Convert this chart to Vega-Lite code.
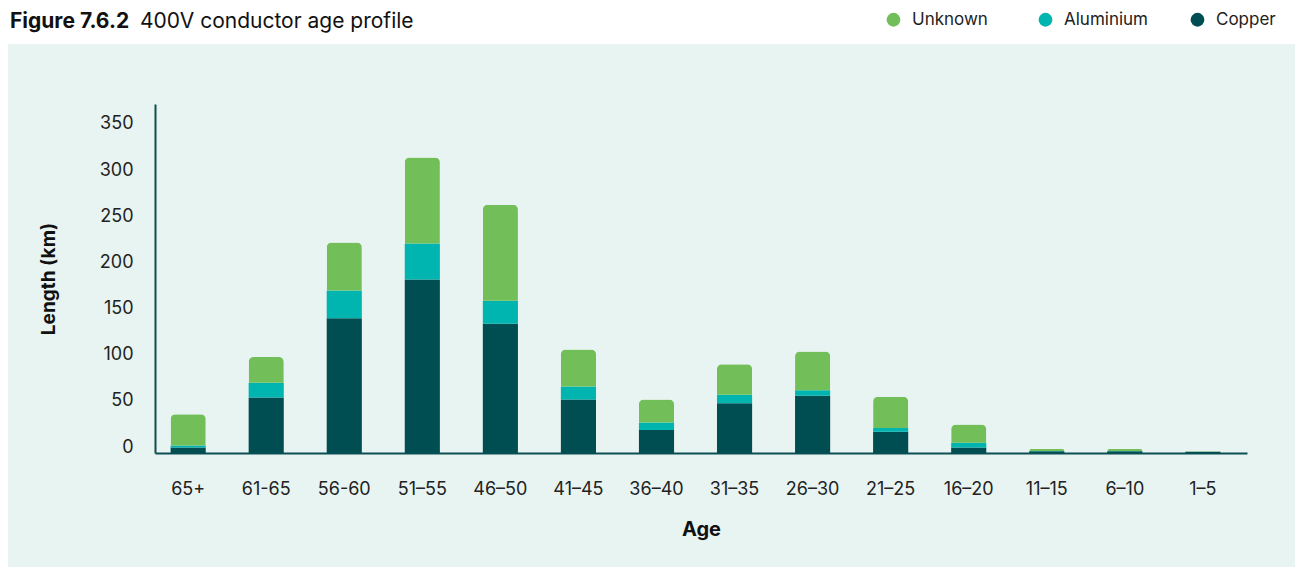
{
  "$schema": "https://vega.github.io/schema/vega-lite/v6.json",
  "autosize": {"type": "none"},
  "width": 1287,
  "height": 523,
  "padding": {"left": 8, "top": 44, "right": 0, "bottom": 0},
  "background": "#ffffff",
  "title": {
    "text": "Figure 7.6.2",
    "subtitle": "\u200b\u00a0\u00a0\u00a0\u00a0\u00a0\u00a0\u00a0\u00a0\u00a0\u00a0\u00a0\u00a0\u00a0\u00a0\u00a0\u00a0\u00a0\u00a0\u00a0\u00a0\u00a0\u00a0400V conductor age profile",
    "anchor": "start",
    "frame": "group",
    "font": "Inter",
    "fontSize": 21,
    "fontWeight": "bold",
    "color": "#111111",
    "subtitleFont": "Inter",
    "subtitleFontSize": 21,
    "subtitleFontWeight": "normal",
    "subtitleColor": "#111111",
    "subtitlePadding": -21,
    "dx": 2,
    "dy": 25
  },
  "config": {
    "view": {"fill": "#E8F4F1", "stroke": null},
    "font": "Inter"
  },
  "data": {
    "values": [
      {"age": "65+", "type": "Copper", "km": 6, "o": 1},
      {"age": "65+", "type": "Aluminium", "km": 2, "o": 2},
      {"age": "65+", "type": "Unknown", "km": 34, "o": 3},
      {"age": "61-65", "type": "Copper", "km": 60, "o": 1},
      {"age": "61-65", "type": "Aluminium", "km": 16, "o": 2},
      {"age": "61-65", "type": "Unknown", "km": 28, "o": 3},
      {"age": "56-60", "type": "Copper", "km": 146, "o": 1},
      {"age": "56-60", "type": "Aluminium", "km": 30, "o": 2},
      {"age": "56-60", "type": "Unknown", "km": 52, "o": 3},
      {"age": "51–55", "type": "Copper", "km": 188, "o": 1},
      {"age": "51–55", "type": "Aluminium", "km": 39, "o": 2},
      {"age": "51–55", "type": "Unknown", "km": 93, "o": 3},
      {"age": "46–50", "type": "Copper", "km": 140, "o": 1},
      {"age": "46–50", "type": "Aluminium", "km": 25, "o": 2},
      {"age": "46–50", "type": "Unknown", "km": 104, "o": 3},
      {"age": "41–45", "type": "Copper", "km": 58, "o": 1},
      {"age": "41–45", "type": "Aluminium", "km": 14, "o": 2},
      {"age": "41–45", "type": "Unknown", "km": 40, "o": 3},
      {"age": "36–40", "type": "Copper", "km": 25, "o": 1},
      {"age": "36–40", "type": "Aluminium", "km": 8, "o": 2},
      {"age": "36–40", "type": "Unknown", "km": 25, "o": 3},
      {"age": "31–35", "type": "Copper", "km": 54, "o": 1},
      {"age": "31–35", "type": "Aluminium", "km": 9, "o": 2},
      {"age": "31–35", "type": "Unknown", "km": 33, "o": 3},
      {"age": "26–30", "type": "Copper", "km": 62, "o": 1},
      {"age": "26–30", "type": "Aluminium", "km": 6, "o": 2},
      {"age": "26–30", "type": "Unknown", "km": 42, "o": 3},
      {"age": "21–25", "type": "Copper", "km": 23, "o": 1},
      {"age": "21–25", "type": "Aluminium", "km": 4, "o": 2},
      {"age": "21–25", "type": "Unknown", "km": 34, "o": 3},
      {"age": "16–20", "type": "Copper", "km": 6, "o": 1},
      {"age": "16–20", "type": "Aluminium", "km": 5, "o": 2},
      {"age": "16–20", "type": "Unknown", "km": 20, "o": 3},
      {"age": "11–15", "type": "Copper", "km": 1.8, "o": 1},
      {"age": "11–15", "type": "Aluminium", "km": 0.3, "o": 2},
      {"age": "11–15", "type": "Unknown", "km": 2.2, "o": 3},
      {"age": "6–10", "type": "Copper", "km": 1.8, "o": 1},
      {"age": "6–10", "type": "Aluminium", "km": 0.3, "o": 2},
      {"age": "6–10", "type": "Unknown", "km": 2.2, "o": 3},
      {"age": "1–5", "type": "Copper", "km": 1.3, "o": 1},
      {"age": "1–5", "type": "Aluminium", "km": 0.1, "o": 2},
      {"age": "1–5", "type": "Unknown", "km": 0.6, "o": 3}
    ]
  },
  "encoding": {
    "x": {
      "field": "age",
      "type": "nominal",
      "sort": null,
      "scale": {"range": [147, 1239], "paddingInner": 0.55, "paddingOuter": 0.27, "align": 0.37},
      "axis": {
        "title": "Age",
        "titleFont": "Inter",
        "titleFontSize": 20,
        "titleFontWeight": "bold",
        "titleColor": "#111111",
        "titlePadding": 21,
        "labelFont": "Inter",
        "labelFontSize": 18,
        "labelColor": "#222222",
        "labelAngle": 0,
        "labelPadding": 27,
        "ticks": false,
        "domainColor": "#0B4F55",
        "domainWidth": 2,
        "offset": -114
      }
    },
    "y": {
      "field": "km",
      "type": "quantitative",
      "stack": "zero",
      "scale": {"domain": [0, 378], "range": [409, 60], "nice": false},
      "axis": {
        "title": "Length (km)",
        "titleFont": "Inter",
        "titleFontSize": 19,
        "titleFontWeight": "bold",
        "titleColor": "#111111",
        "titlePadding": 41,
        "values": [0, 50, 100, 150, 200, 250, 300, 350],
        "labelFont": "Inter",
        "labelFontSize": 18,
        "labelColor": "#222222",
        "labelPadding": 22,
        "labelOffset": -6,
        "ticks": false,
        "grid": false,
        "domainColor": "#0B4F55",
        "domainWidth": 2,
        "offset": -147
      }
    },
    "color": {
      "field": "type",
      "type": "nominal",
      "scale": {"domain": ["Unknown", "Aluminium", "Copper"], "range": ["#72BF5A", "#00B5B0", "#004D52"]},
      "legend": {
        "title": null,
        "orient": "none",
        "legendX": 877,
        "legendY": -33,
        "direction": "horizontal",
        "symbolType": "circle",
        "symbolSize": 190,
        "symbolStrokeWidth": 0,
        "labelFont": "Inter",
        "labelFontSize": 17,
        "labelColor": "#222222",
        "labelOffset": 10,
        "gridAlign": "all",
        "columnPadding": 40
      }
    },
    "order": {"field": "o", "type": "quantitative"}
  },
  "layer": [
    {
      "mark": {"type": "bar"},
      "encoding": {
        "opacity": {"condition": {"test": "datum.type === 'Unknown'", "value": 0}, "value": 1}
      }
    },
    {
      "mark": {"type": "bar", "cornerRadiusTopLeft": 5, "cornerRadiusTopRight": 5},
      "encoding": {
        "opacity": {"condition": {"test": "datum.type === 'Unknown'", "value": 1}, "value": 0}
      }
    }
  ]
}
